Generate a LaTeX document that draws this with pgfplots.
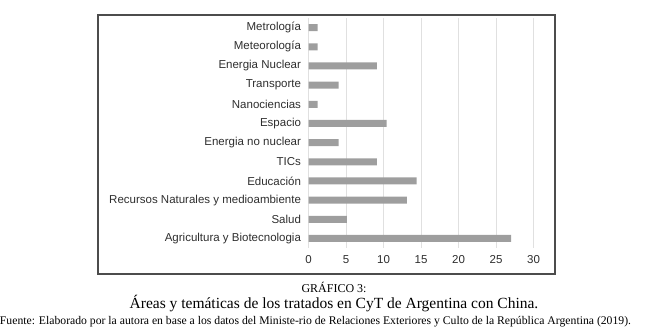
\documentclass[border=0pt]{standalone}
\usepackage{pgfplots}
\pgfplotsset{compat=1.18}
\usepackage{fontspec}
\setmainfont{Liberation Sans}
\newfontfamily\capfont{Liberation Serif}
\begin{document}
\begin{tikzpicture}[x=1pt,y=1pt]
\path[use as bounding box] (0,0) rectangle (666,-331);
\draw[black!70, line width=1.2pt] (98,-15) rectangle (555,-274);
\begin{axis}[
  scale only axis,
  width=225pt, height=230pt,
  at={(308.5pt,-248pt)}, anchor=south west,
  xmin=0, xmax=30, ymin=-0.5, ymax=11.5,
  y dir=reverse,
  xbar, bar width=7pt,
  axis line style={draw=none},
  major tick length=0pt,
  xtick={0,5,...,30},
  ytick={0,...,11},
  yticklabels={Metrología,Meteorología,Energia Nuclear,Transporte\ ,Nanociencias,Espacio,Energia no nuclear,TICs,Educación,Recursos Naturales y medioambiente,Salud,Agricultura y Biotecnologia},
  xmajorgrids,
  grid style={black!12, line width=0.9pt},
  tick label style={font=\fontsize{11.5}{13}\selectfont, text=black!82},
  /pgf/number format/assume math mode=true,
  yticklabel style={xshift=-4pt},
  xticklabel style={yshift=-4pt},
  clip=false,
]
\addplot[fill=black!38, draw=none] coordinates {
(1.2,0) (1.2,1) (9.1,2) (4,3) (1.2,4) (10.4,5) (4,6) (9.1,7) (14.4,8) (13.1,9) (5.1,10) (27,11)
};
\end{axis}
\node[anchor=base, font=\capfont\fontsize{12}{14}\selectfont] at (334,-292) {GRÁFICO 3:};
\node[anchor=base, font=\capfont\fontsize{15.5}{17}\selectfont] at (334,-308) {Áreas y temáticas de los tratados en CyT de Argentina con China.};
\node[anchor=base, font=\capfont\fontsize{11.7}{13}\selectfont] at (315.5,-324.5) {Fuente: Elaborado por la autora en base a los datos del Ministe-rio de Relaciones Exteriores y Culto de la República Argentina (2019).};
\end{tikzpicture}
\end{document}
